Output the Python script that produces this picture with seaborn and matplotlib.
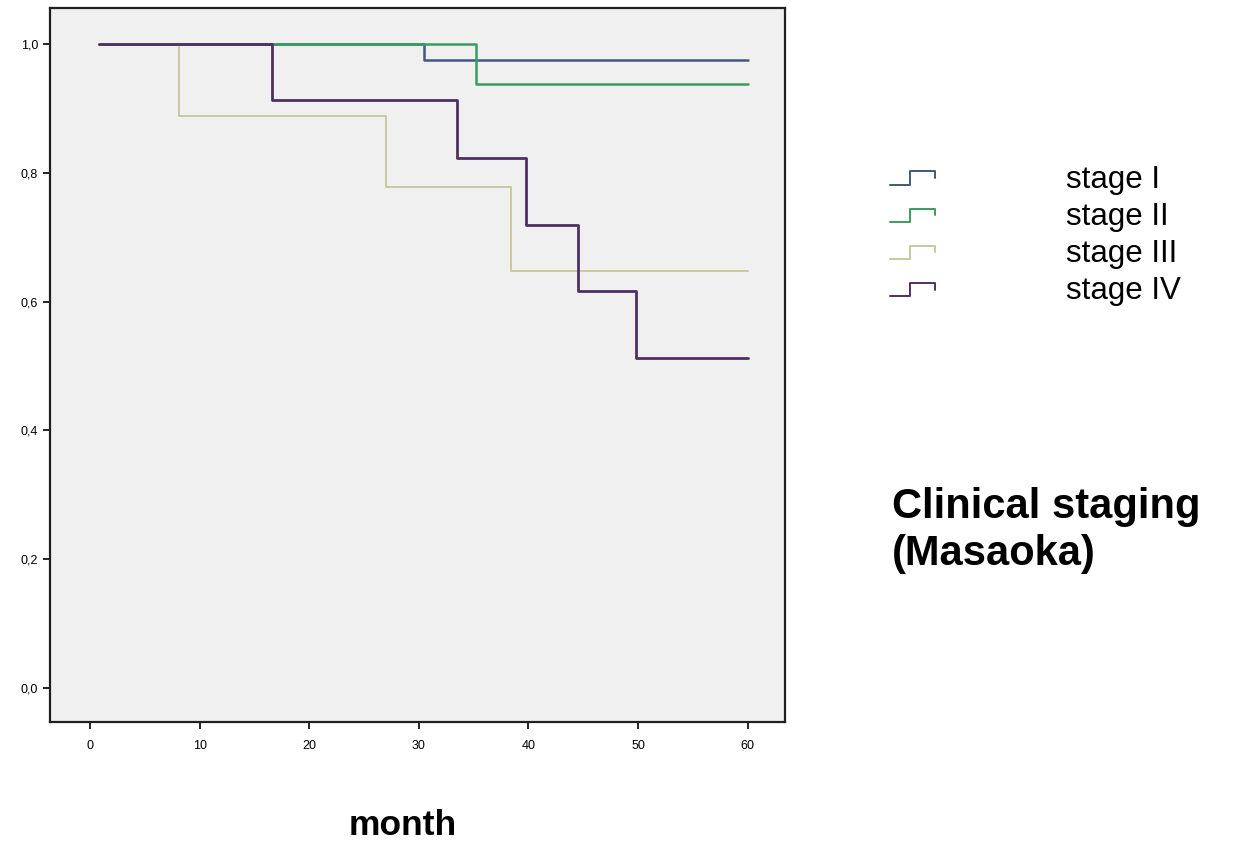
import numpy as np
import pandas as pd
import matplotlib
matplotlib.use("Agg")
import matplotlib.pyplot as plt
import seaborn as sns
from matplotlib.lines import Line2D
from matplotlib.legend_handler import HandlerBase

# Kaplan-Meier step points (month, cumulative survival)
stage_labels = ["stage I", "stage II", "stage III", "stage IV"]
stage_I_month = [0.8, 30.5, 60]
stage_I_surv = [1.0, 0.975, 0.975]
stage_II_month = [0.8, 35.2, 60]
stage_II_surv = [1.0, 0.938, 0.938]
stage_III_month = [0.8, 8.1, 27.0, 38.4, 60]
stage_III_surv = [1.0, 0.889, 0.778, 0.648, 0.648]
stage_IV_month = [0.8, 16.6, 33.5, 39.8, 44.5, 49.8, 60]
stage_IV_surv = [1.0, 0.913, 0.823, 0.719, 0.616, 0.513, 0.513]

x_ticks = [0, 10, 20, 30, 40, 50, 60]
y_ticks = [0.0, 0.2, 0.4, 0.6, 0.8, 1.0]
y_ticklabels = ["0,0", "0,2", "0,4", "0,6", "0,8", "1,0"]

colors = {"stage I": "#45577e", "stage II": "#3a9c5e",
          "stage III": "#cac8a0", "stage IV": "#4e3160"}
widths = {"stage I": 1.8, "stage II": 1.8, "stage III": 1.4, "stage IV": 2.0}

frames = []
for lab, m, s in zip(stage_labels,
                     [stage_I_month, stage_II_month, stage_III_month, stage_IV_month],
                     [stage_I_surv, stage_II_surv, stage_III_surv, stage_IV_surv]):
    frames.append(pd.DataFrame({"month": m, "surv": s, "stage": lab}))
df = pd.concat(frames, ignore_index=True)

sns.set_theme(style="white")
plt.rcParams["font.family"] = ["Liberation Sans", "DejaVu Sans"]
plt.rcParams["text.color"] = "black"

fig = plt.figure(figsize=(12.35, 8.49), dpi=100)
ax = fig.add_axes([0.0405, 0.1496, 0.595, 0.841])
ax.set_facecolor("#f0f0f0")

for lab in stage_labels:
    sub = df[df["stage"] == lab]
    sns.lineplot(data=sub, x="month", y="surv", ax=ax, color=colors[lab],
                 lw=widths[lab], drawstyle="steps-post", estimator=None,
                 sort=False, label=lab, legend=False)

ax.set_xlim(-3.65, 63.4)
ax.set_ylim(-0.053, 1.056)
ax.set_xticks(x_ticks)
ax.set_xticklabels([str(t) for t in x_ticks], fontsize=9)
ax.set_yticks(y_ticks)
ax.set_yticklabels(y_ticklabels, fontsize=9)
ax.tick_params(axis="both", direction="out", length=5, width=1.2,
               colors="black", bottom=True, left=True)
ax.tick_params(axis="x", pad=8)
for sp in ax.spines.values():
    sp.set_color("#202020")
    sp.set_linewidth(1.6)
ax.set_xlabel("")
ax.set_ylabel("")

fig.text(0.326, 0.008, "month", ha="center", va="bottom",
         fontsize=25.5, fontweight="bold")


class StepHandler(HandlerBase):
    def create_artists(self, legend, orig_handle, xdescent, ydescent,
                       width, height, fontsize, trans):
        xs = np.array([0, 0.45, 0.45, 1.0, 1.0]) * width - xdescent
        ys = np.array([0.15, 0.15, 0.75, 0.75, 0.45]) * height - ydescent
        ln = Line2D(xs, ys, color=orig_handle.get_color(), lw=1.4)
        ln.set_transform(trans)
        return [ln]


handles = [Line2D([], [], color=colors[lab]) for lab in stage_labels]
fig.legend(handles, stage_labels, loc="upper left",
           bbox_to_anchor=(0.698, 0.839), frameon=False, fontsize=22.5,
           handlelength=1.42, handletextpad=4.2, labelspacing=0.23,
           handler_map={Line2D: StepHandler()})

fig.text(0.722, 1 - 574 / 849, "Clinical staging\n(Masaoka)", ha="left",
         va="bottom", fontsize=30, fontweight="bold", linespacing=1.22)

fig.savefig("out.png", dpi=100, facecolor="white")
